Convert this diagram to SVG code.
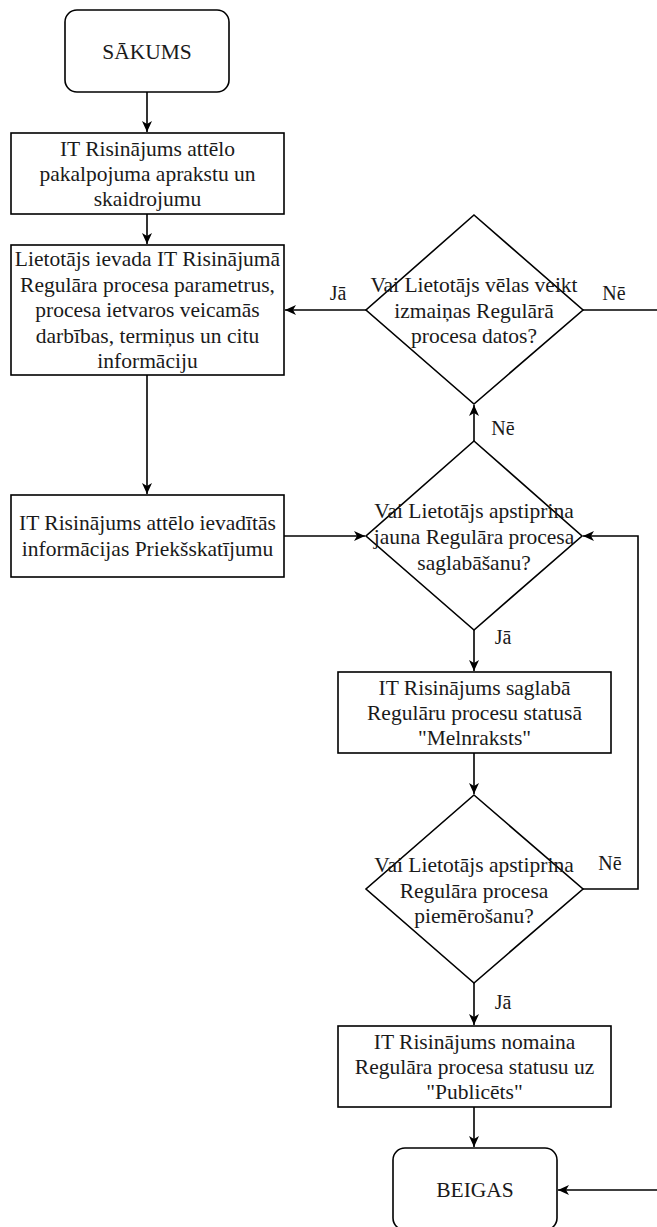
<svg xmlns="http://www.w3.org/2000/svg" width="657" height="1227" viewBox="0 0 657 1227">
<style>
.n{fill:#fff;stroke:#000;stroke-width:1.6}
.t{font-family:"Liberation Serif","Times New Roman",serif;font-size:21.5px;fill:#1a1a1a;text-anchor:middle}
.l{font-family:"Liberation Serif","Times New Roman",serif;font-size:20px;fill:#1a1a1a;text-anchor:middle}
.c{fill:none;stroke:#000;stroke-width:1.6}
</style>
<defs>
<marker id="a" markerUnits="userSpaceOnUse" markerWidth="12" markerHeight="10" refX="11" refY="5" orient="auto">
<path d="M0,0 L11,5 L0,10 L3,5 Z" fill="#000"/>
</marker>
</defs>
<g id="connectors">
<path class="c" d="M147,92 L147,132" marker-end="url(#a)"/>
<path class="c" d="M147,214 L147,244" marker-end="url(#a)"/>
<path class="c" d="M147,375 L147,494" marker-end="url(#a)"/>
<path class="c" d="M284,536 L365,536" marker-end="url(#a)"/>
<path class="c" d="M366,310 L285,310" marker-end="url(#a)"/>
<path class="c" d="M583,310 L657,310"/>
<path class="c" d="M474,441 L474,405" marker-end="url(#a)"/>
<path class="c" d="M474,630 L474,671" marker-end="url(#a)"/>
<path class="c" d="M474,753 L474,794" marker-end="url(#a)"/>
<path class="c" d="M583,889 L638,889 L638,536 L583,536" marker-end="url(#a)"/>
<path class="c" d="M474,983 L474,1025" marker-end="url(#a)"/>
<path class="c" d="M474,1107 L474,1147" marker-end="url(#a)"/>
<path class="c" d="M657,1190 L558,1190" marker-end="url(#a)"/>
<text class="l" x="338" y="300">Jā</text>
<text class="l" x="614" y="300">Nē</text>
<text class="l" x="503" y="435">Nē</text>
<text class="l" x="503" y="644">Jā</text>
<text class="l" x="610" y="870">Nē</text>
<text class="l" x="503" y="1009">Jā</text>
</g>
<g id="start">
<rect class="n" x="65" y="10" width="164" height="82" rx="12"/>
<text class="t" x="147" y="59">SĀKUMS</text>
</g>
<g id="box1">
<rect class="n" x="11" y="133" width="273" height="81"/>
<text class="t" x="147.5" y="156">IT Risinājums attēlo</text>
<text class="t" x="147.5" y="181">pakalpojuma aprakstu un</text>
<text class="t" x="147.5" y="206">skaidrojumu</text>
</g>
<g id="box2">
<rect class="n" x="11" y="245" width="273" height="130"/>
<text class="t" x="147.5" y="266">Lietotājs ievada IT Risinājumā</text>
<text class="t" x="147.5" y="291.5">Regulāra procesa parametrus,</text>
<text class="t" x="147.5" y="317">procesa ietvaros veicamās</text>
<text class="t" x="147.5" y="342.5">darbības, termiņus un citu</text>
<text class="t" x="147.5" y="368">informāciju</text>
</g>
<g id="box3">
<rect class="n" x="11" y="495" width="273" height="82"/>
<text class="t" x="147.5" y="530">IT Risinājums attēlo ievadītās</text>
<text class="t" x="147.5" y="556">informācijas Priekšskatījumu</text>
</g>
<g id="dec1">
<polygon class="n" points="474,215 583,310 474,404 366,310"/>
<text class="t" x="474" y="292">Vai Lietotājs vēlas veikt</text>
<text class="t" x="474" y="317.5">izmaiņas Regulārā</text>
<text class="t" x="474" y="343">procesa datos?</text>
</g>
<g id="dec2">
<polygon class="n" points="474,441 582,536 474,630 366,536"/>
<text class="t" x="474" y="518">Vai Lietotājs apstiprina</text>
<text class="t" x="474" y="544">jauna Regulāra procesa</text>
<text class="t" x="474" y="570">saglabāšanu?</text>
</g>
<g id="box4">
<rect class="n" x="338" y="672" width="273" height="81"/>
<text class="t" x="474.5" y="695">IT Risinājums saglabā</text>
<text class="t" x="474.5" y="720">Regulāru procesu statusā</text>
<text class="t" x="474.5" y="745">"Melnraksts"</text>
</g>
<g id="dec3">
<polygon class="n" points="474,795 583,889 474,983 366,889"/>
<text class="t" x="474" y="872">Vai Lietotājs apstiprina</text>
<text class="t" x="474" y="897.5">Regulāra procesa</text>
<text class="t" x="474" y="923">piemērošanu?</text>
</g>
<g id="box5">
<rect class="n" x="338" y="1026" width="273" height="81"/>
<text class="t" x="474.5" y="1049">IT Risinājums nomaina</text>
<text class="t" x="474.5" y="1074">Regulāra procesa statusu uz</text>
<text class="t" x="474.5" y="1099">"Publicēts"</text>
</g>
<g id="end">
<rect class="n" x="393" y="1148" width="164" height="82" rx="12"/>
<text class="t" x="475" y="1197">BEIGAS</text>
</g>
</svg>
